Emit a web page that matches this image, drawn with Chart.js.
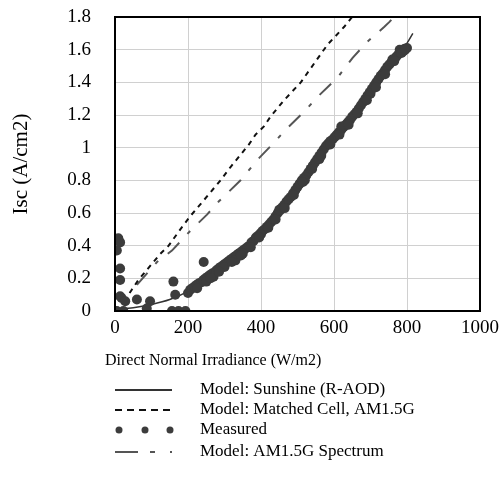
<!DOCTYPE html>
<html>
<head>
<meta charset="utf-8">
<script src="https://cdn.jsdelivr.net/npm/chart.js@4.4.1/dist/chart.umd.min.js"></script>
<style>
  html, body { margin: 0; padding: 0; background: #fff; }
  #wrap { width: 499px; height: 482px; }
</style>
</head>
<body>
<div id="wrap"><canvas id="chart" width="499" height="482"></canvas></div>
<script>
// axis ticks
const xTickValues = [0, 200, 400, 600, 800, 1000];
const xTickLabels = ['0', '200', '400', '600', '800', '1000'];
const yTickValues = [0, 0.2, 0.4, 0.6, 0.8, 1, 1.2, 1.4, 1.6, 1.8];
const yTickLabels = ['0', '0.2', '0.4', '0.6', '0.8', '1', '1.2', '1.4', '1.6', '1.8'];
const xTitle = 'Direct Normal Irradiance (W/m2)';
const yTitle = 'Isc (A/cm2)';

const seriesNames = [
  'Model: Sunshine (R-AOD)',
  'Model: Matched Cell, AM1.5G',
  'Measured',
  'Model: AM1.5G Spectrum'
];

// Model: Sunshine (R-AOD)
const sunshineX = [0, 50, 100, 150, 200, 250, 300, 350, 400, 450, 500, 550, 600, 650, 700, 750, 800, 816];
const sunshineY = [0.01, 0.02, 0.04, 0.07, 0.12, 0.19, 0.28, 0.38, 0.49, 0.61, 0.76, 0.92, 1.06, 1.19, 1.34, 1.51, 1.64, 1.70];

// Model: Matched Cell, AM1.5G
const matchedX = [40, 46, 64, 83, 124, 147, 179, 206, 229, 289, 316, 367, 385, 408, 426, 463, 509, 582, 628, 646, 650];
const matchedY = [0.11, 0.13, 0.19, 0.24, 0.35, 0.40, 0.50, 0.58, 0.64, 0.80, 0.88, 1.02, 1.08, 1.13, 1.19, 1.29, 1.40, 1.63, 1.74, 1.79, 1.80];

// Model: AM1.5G Spectrum
const spectrumX = [60, 115, 156, 206, 252, 284, 344, 390, 431, 472, 518, 559, 610, 651, 692, 738, 752, 760];
const spectrumY = [0.16, 0.30, 0.37, 0.49, 0.59, 0.67, 0.80, 0.925, 1.02, 1.12, 1.22, 1.32, 1.43, 1.55, 1.65, 1.74, 1.77, 1.79];

// Measured
const measuredX = [
  9, 14, 5, 14, 14, 18, 14, 28, 60, 96, 160, 165, 243,
  0, 5, 23, 87, 156, 174, 193,
  200, 206, 212, 218, 224, 230, 236, 242, 248, 254, 260, 266, 272, 278, 284, 290, 296,
  302, 308, 314, 320, 326, 332, 338, 344, 350, 356, 362, 368, 374, 380, 386, 392, 398,
  404, 410, 416, 422, 428, 434, 440, 446, 452, 458, 464, 470, 476, 482, 488, 494, 500,
  506, 512, 518, 524, 530, 536, 542, 548, 554, 560, 566, 572, 578, 584, 590, 596, 602,
  608, 614, 620, 626, 632, 638, 644, 650, 656, 662, 668, 674, 680, 686, 692, 698, 704,
  710, 716, 722, 728, 734, 740, 746, 752, 758, 764, 770, 776, 782, 788, 794, 800,
  250, 300, 330, 400, 450, 520, 560, 620, 700, 760, 780, 790, 270, 350,
  225, 262, 285, 320, 345, 372, 395, 420, 440, 465, 490, 515, 540, 565, 590, 615,
  640, 665, 690, 715, 740, 765, 785, 795
];
const measuredY = [
  0.445, 0.42, 0.37, 0.26, 0.19, 0.08, 0.09, 0.06, 0.07, 0.06, 0.18, 0.10, 0.30,
  0, 0, 0, 0.015, 0, 0, 0,
  0.11, 0.13, 0.14, 0.15, 0.16, 0.17, 0.175, 0.19, 0.20, 0.21, 0.22, 0.23, 0.235, 0.25, 0.26, 0.27, 0.28,
  0.29, 0.30, 0.31, 0.32, 0.33, 0.34, 0.35, 0.36, 0.37, 0.38, 0.39, 0.40, 0.42, 0.43, 0.45, 0.46, 0.475,
  0.49, 0.50, 0.515, 0.53, 0.545, 0.56, 0.58, 0.60, 0.615, 0.635, 0.65, 0.67, 0.685, 0.70, 0.72, 0.74, 0.76,
  0.78, 0.80, 0.815, 0.83, 0.85, 0.87, 0.89, 0.91, 0.93, 0.95, 0.97, 0.99, 1.01, 1.025, 1.04, 1.05, 1.065,
  1.08, 1.095, 1.11, 1.125, 1.14, 1.155, 1.17, 1.19, 1.205, 1.22, 1.24, 1.26, 1.28, 1.30, 1.32, 1.34, 1.36,
  1.38, 1.40, 1.42, 1.44, 1.455, 1.475, 1.495, 1.51, 1.525, 1.54, 1.555, 1.57, 1.585, 1.60, 1.605, 1.61,
  0.18, 0.27, 0.31, 0.47, 0.62, 0.80, 0.93, 1.13, 1.33, 1.54, 1.60, 1.59, 0.21, 0.35,
  0.14, 0.20, 0.24, 0.30, 0.34, 0.39, 0.45, 0.51, 0.56, 0.63, 0.71, 0.79, 0.87, 0.95, 1.02, 1.08,
  1.14, 1.21, 1.29, 1.37, 1.45, 1.53, 1.58, 1.60
];

function toPoints(xs, ys) {
  return xs.map((x, i) => ({ x: x, y: ys[i] }));
}

const FONT = '"Liberation Serif", "Times New Roman", serif';

// frame around plot area
const framePlugin = {
  id: 'frame',
  afterDraw(chart) {
    const { ctx, chartArea: a } = chart;
    ctx.save();
    ctx.strokeStyle = '#000';
    ctx.lineWidth = 2;
    ctx.strokeRect(a.left, a.top, a.right - a.left, a.bottom - a.top);
    ctx.restore();
  }
};

// x title (sits left of centre in the original) and legend, one item per row
const legendPlugin = {
  id: 'rowLegend',
  afterDraw(chart) {
    const ctx = chart.ctx;
    const rows = [390, 410, 430, 452];
    const x0 = 115, x1 = 172, tx = 200;
    ctx.save();
    ctx.textBaseline = 'middle';
    ctx.textAlign = 'left';
    ctx.fillStyle = '#000';
    ctx.font = '16px ' + FONT;
    ctx.fillText(xTitle, 105, 361);

    ctx.font = '17px ' + FONT;
    chart.data.datasets.forEach(ds => {
      const y = rows[ds.legendRow];
      if (ds.legendRow === 2) {
        ctx.fillStyle = ds.backgroundColor;
        [119, 145, 170].forEach(px => {
          ctx.beginPath();
          ctx.arc(px, y, 3.5, 0, Math.PI * 2);
          ctx.fill();
        });
      } else {
        ctx.beginPath();
        ctx.strokeStyle = ds.borderColor;
        ctx.lineWidth = 2;
        ctx.setLineDash(ds.legendDash || []);
        ctx.moveTo(x0, y);
        ctx.lineTo(x1, y);
        ctx.stroke();
        ctx.setLineDash([]);
      }
      ctx.fillStyle = '#000';
      ctx.fillText(ds.label, tx, y);
    });
    ctx.restore();
  }
};

new Chart(document.getElementById('chart'), {
  type: 'scatter',
  data: {
    datasets: [
      {
        label: seriesNames[2],
        legendRow: 2,
        data: toPoints(measuredX, measuredY),
        showLine: false,
        pointRadius: 5,
        pointBorderWidth: 0,
        backgroundColor: '#3c3c3c',
        borderColor: '#3c3c3c',
        order: 0
      },
      {
        label: seriesNames[0],
        legendRow: 0,
        data: toPoints(sunshineX, sunshineY),
        showLine: true,
        pointRadius: 0,
        borderColor: '#333333',
        borderWidth: 1.5,
        tension: 0.3,
        order: 1
      },
      {
        label: seriesNames[1],
        legendRow: 1,
        data: toPoints(matchedX, matchedY),
        showLine: true,
        pointRadius: 0,
        borderColor: '#111111',
        borderWidth: 2,
        borderDash: [5, 5],
        legendDash: [7, 5],
        order: 1
      },
      {
        label: seriesNames[3],
        legendRow: 3,
        data: toPoints(spectrumX, spectrumY),
        showLine: true,
        pointRadius: 0,
        borderColor: '#555555',
        borderWidth: 2,
        borderDash: [16, 12, 4, 12],
        legendDash: [23, 12, 5, 15, 2, 10],
        order: 1
      }
    ]
  },
  options: {
    responsive: false,
    animation: false,
    layout: { padding: { left: 0, right: 19, top: 17, bottom: 111 } },
    plugins: {
      legend: { display: false },
      tooltip: { enabled: false }
    },
    scales: {
      x: {
        type: 'linear',
        min: 0,
        max: 1000,
        afterBuildTicks: s => { s.ticks = xTickValues.map(v => ({ value: v })); },
        afterFit: s => { s.height = 60; s.paddingLeft = 0; s.paddingRight = 0; },
        grid: { color: '#d0d0d0', lineWidth: 1, drawTicks: false },
        border: { display: false },
        ticks: {
          padding: 6,
          color: '#000',
          font: { family: FONT, size: 19 },
          maxRotation: 0,
          callback: (v, i) => xTickLabels[i]
        },
        title: { display: false }
      },
      y: {
        type: 'linear',
        min: 0,
        max: 1.8,
        afterBuildTicks: s => { s.ticks = yTickValues.map(v => ({ value: v })); },
        afterFit: s => { s.width = 115; s.paddingTop = 0; s.paddingBottom = 0; },
        grid: { color: '#d0d0d0', lineWidth: 1, drawTicks: false },
        border: { display: false },
        ticks: {
          padding: 24,
          color: '#000',
          font: { family: FONT, size: 19 },
          callback: (v, i) => yTickLabels[i]
        },
        title: {
          display: true,
          text: yTitle,
          color: '#000',
          font: { family: FONT, size: 21 },
          padding: { top: 9, bottom: 0 }
        }
      }
    }
  },
  plugins: [framePlugin, legendPlugin]
});
</script>
</body>
</html>
